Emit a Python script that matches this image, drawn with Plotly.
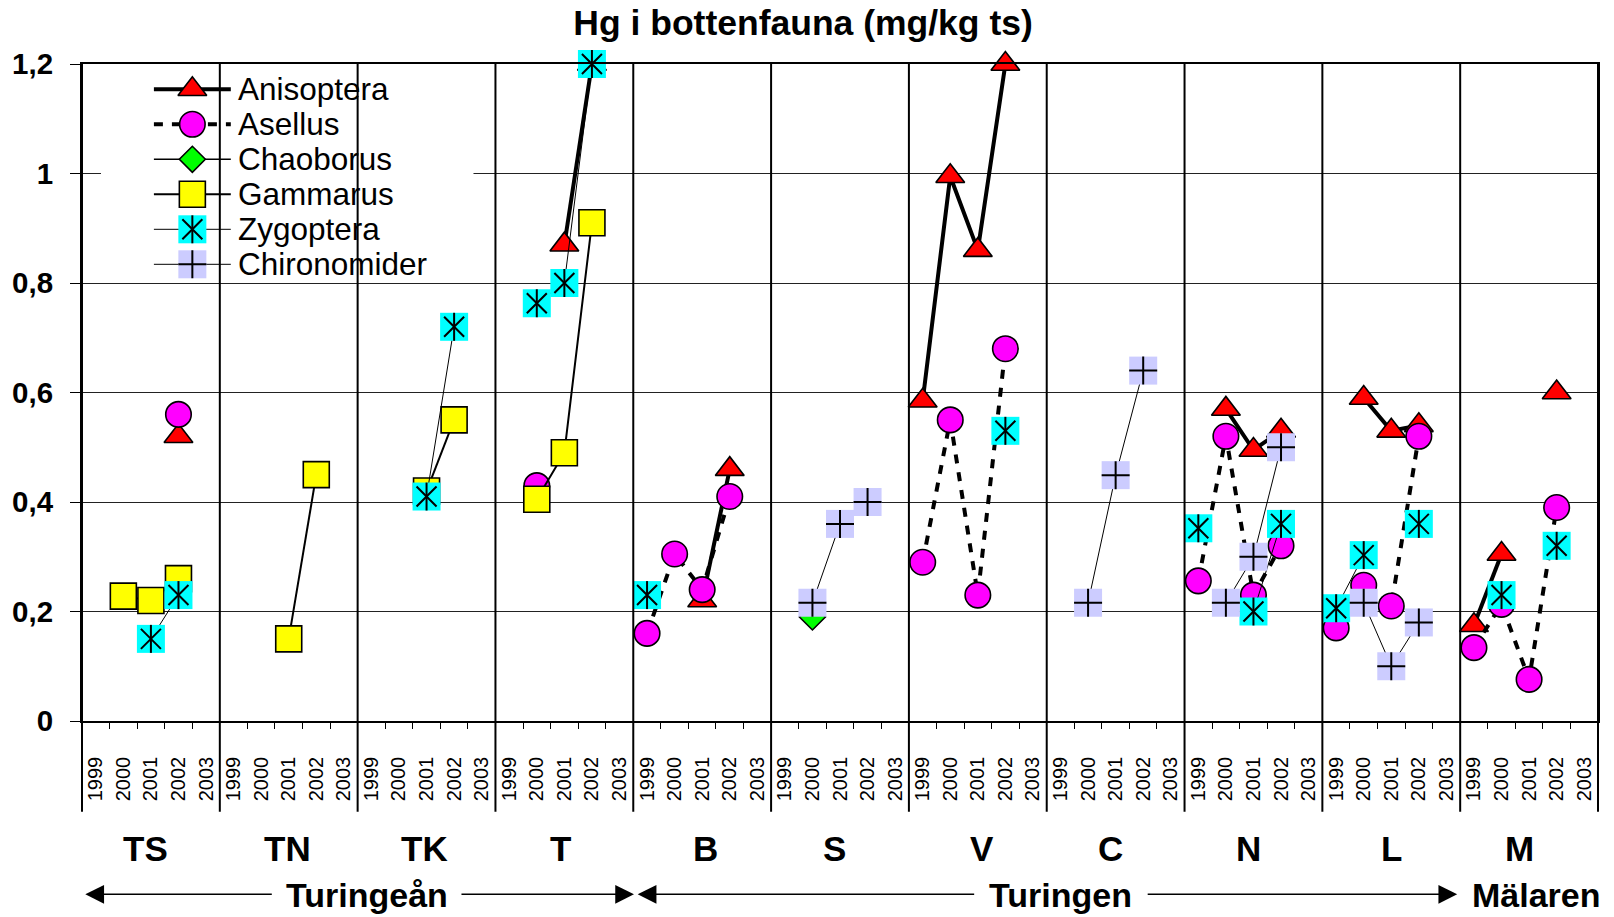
import plotly.graph_objects as go

# ---------------- data ----------------
SITES = ["TS", "TN", "TK", "T", "B", "S", "V", "C", "N", "L", "M"]
YEARS = ["1999", "2000", "2001", "2002", "2003"]
REGIONS = ["Turingeån", "Turingen", "Mälaren"]
TITLE = "Hg i bottenfauna (mg/kg ts)"
Y_TICKS = [0, 0.2, 0.4, 0.6, 0.8, 1.0, 1.2]
Y_TICKTEXT = ["0", "0,2", "0,4", "0,6", "0,8", "1", "1,2"]

_ = None
anisoptera = {
    "TS": [_, _, _, 0.52, _],
    "T": [_, _, 0.87, 1.2, _],
    "B": [_, _, 0.22, 0.46, _],
    "V": [0.585, 0.995, 0.86, 1.2, _],
    "N": [_, 0.57, 0.495, 0.53, _],
    "L": [_, 0.59, 0.53, 0.54, _],
    "M": [0.175, 0.305, _, 0.60, _],
}
asellus = {
    "TS": [_, _, _, 0.56, _],
    "T": [_, 0.43, _, _, _],
    "B": [0.16, 0.305, 0.24, 0.41, _],
    "V": [0.29, 0.55, 0.23, 0.68, _],
    "N": [0.256, 0.52, 0.23, 0.32, _],
    "L": [0.17, 0.248, 0.21, 0.52, _],
    "M": [0.134, 0.213, 0.076, 0.39, _],
}
chaoborus = {
    "S": [_, 0.19, _, _, _],
}
gammarus = {
    "TS": [_, 0.228, 0.22, 0.26, _],
    "TN": [_, _, 0.15, 0.45, _],
    "TK": [_, _, 0.42, 0.55, _],
    "T": [_, 0.405, 0.49, 0.91, _],
}
zygoptera = {
    "TS": [_, _, 0.15, 0.23, _],
    "TK": [_, _, 0.41, 0.72, _],
    "T": [_, 0.763, 0.80, 1.2, _],
    "B": [0.23, _, _, _, _],
    "V": [_, _, _, 0.53, _],
    "N": [0.352, _, 0.20, 0.36, _],
    "L": [0.206, 0.303, _, 0.36, _],
    "M": [_, 0.23, _, 0.32, _],
}
chironomider = {
    "S": [_, 0.216, 0.36, 0.40, _],
    "C": [_, 0.216, 0.449, 0.64, _],
    "N": [_, 0.216, 0.30, 0.50, _],
    "L": [_, 0.216, 0.10, 0.18, _],
}

SPECIES = [
    ("Anisoptera", anisoptera),
    ("Asellus", asellus),
    ("Chaoborus", chaoborus),
    ("Gammarus", gammarus),
    ("Zygoptera", zygoptera),
    ("Chironomider", chironomider),
]

# ---------------- styles ----------------
FONT = "Liberation Sans, Arial, sans-serif"
BLK = "black"
STYLE = {
    "Anisoptera": dict(line=dict(color=BLK, width=4),
                       layers=[dict(symbol="triangle-up", size=25, color="#FF0000",
                                    line=dict(color=BLK, width=1.6))]),
    "Asellus": dict(line=dict(color=BLK, width=4, dash="9px,9px"),
                    layers=[dict(symbol="circle", size=25.5, color="#FF00FF",
                                 line=dict(color=BLK, width=1.6))]),
    "Chaoborus": dict(line=dict(color=BLK, width=1.5),
                      layers=[dict(symbol="diamond", size=20, color="#00FF00",
                                   line=dict(color=BLK, width=1.6))]),
    "Gammarus": dict(line=dict(color=BLK, width=2),
                     layers=[dict(symbol="square", size=26, color="#FFFF00",
                                  line=dict(color=BLK, width=1.6))]),
    "Zygoptera": dict(line=dict(color=BLK, width=1),
                      layers=[dict(symbol="square", size=28, color="#00FFFF",
                                   line=dict(width=0)),
                              dict(symbol="x-thin-open", size=20, color=BLK,
                                   line=dict(color=BLK, width=2)),
                              dict(symbol="line-ns-open", size=20, color=BLK,
                                   line=dict(color=BLK, width=2))]),
    "Chironomider": dict(line=dict(color=BLK, width=1),
                         layers=[dict(symbol="square", size=28, color="#CCCCFF",
                                      line=dict(width=0)),
                                 dict(symbol="cross-thin-open", size=20, color=BLK,
                                      line=dict(color=BLK, width=2))]),
}

NY = len(YEARS)
NCAT = len(SITES) * NY


def flatten(series):
    xs, ys = [], []
    for g, site in enumerate(SITES):
        vals = series.get(site, [None] * NY)
        for k, v in enumerate(vals):
            xs.append(g * NY + k)
            ys.append(v)
        xs.append(g * NY + NY - 0.5)
        ys.append(None)  # break lines between sites
    return xs, ys


def add_species(fig, name, xs, ys, xa="x", ya="y"):
    st = STYLE[name]
    first = st["layers"][0]
    fig.add_trace(go.Scatter(x=xs, y=ys, mode="lines+markers", name=name,
                             line=st["line"], marker=first, connectgaps=False,
                             cliponaxis=False, xaxis=xa, yaxis=ya, hoverinfo="skip"))
    for lay in st["layers"][1:]:
        fig.add_trace(go.Scatter(x=xs, y=ys, mode="markers", marker=lay,
                                 cliponaxis=False, xaxis=xa, yaxis=ya,
                                 hoverinfo="skip", showlegend=False))


fig = go.Figure()
for name, series in SPECIES:
    xs, ys = flatten(series)
    add_species(fig, name, xs, ys)

# ---------------- custom legend (inset subplot) ----------------
LEG_W, LEG_H = 373, 212
LEG_ROW0, LEG_DY = 21.3, 35
LEG_LINE = (53, 130)
LEG_MARK = 91.5
LEG_TEXT = 135
for r, (name, _s) in enumerate(SPECIES):
    yr = LEG_ROW0 + r * LEG_DY
    st = STYLE[name]
    fig.add_trace(go.Scatter(x=list(LEG_LINE), y=[yr, yr], mode="lines", line=st["line"],
                             xaxis="x2", yaxis="y2", hoverinfo="skip", cliponaxis=False))
    for lay in st["layers"]:
        fig.add_trace(go.Scatter(x=[LEG_MARK], y=[yr], mode="markers", marker=lay,
                                 xaxis="x2", yaxis="y2", hoverinfo="skip", cliponaxis=False))
    fig.add_annotation(x=LEG_TEXT, y=yr, xref="x2", yref="y2", text=name,
                       showarrow=False, xanchor="left", yanchor="middle",
                       font=dict(family=FONT, size=31.5, color=BLK))

# ---------------- layout ----------------
L, R, T, B = 80, 16, 64, 196
W, H = 1614, 917
PH = H - T - B
PW = W - L - R

fig.update_layout(
    width=W, height=H,
    margin=dict(l=L, r=R, t=T, b=B),
    paper_bgcolor="white", plot_bgcolor="white",
    showlegend=False,
    font=dict(family=FONT, color=BLK),
    title=dict(text=TITLE, x=(802 - L) / PW, xref="paper", xanchor="center",
               y=1 - 22.6 / H, yref="container", yanchor="middle",
               font=dict(family=FONT, size=35.5, weight="bold", color=BLK)),
    xaxis=dict(range=[-0.5, NCAT - 0.5], tickmode="array",
               tickvals=list(range(NCAT)), ticktext=YEARS * len(SITES),
               tickangle=-90, tickfont=dict(family=FONT, size=20, color=BLK),
               ticks="", ticklabelstandoff=26,
               minor=dict(tickmode="array", tickvals=[k - 0.5 for k in range(1, NCAT)],
                          ticks="outside", ticklen=6, tickwidth=1, tickcolor=BLK,
                          showgrid=False),
               showgrid=False, zeroline=False,
               showline=True, linecolor=BLK, linewidth=1.5, mirror=True),
    yaxis=dict(range=[0, 1.2], tickmode="array", tickvals=Y_TICKS, ticktext=Y_TICKTEXT,
               tickfont=dict(family=FONT, size=29.5, weight="bold", color=BLK),
               ticks="outside", ticklen=10, tickwidth=1.2, tickcolor=BLK,
               ticklabelstandoff=11,
               showgrid=True, gridcolor="#222222", gridwidth=1, zeroline=False,
               showline=True, linecolor=BLK, linewidth=2, mirror=True),
    xaxis2=dict(domain=[(99 - L) / PW, (99 + LEG_W - L) / PW], range=[0, LEG_W],
                visible=False, anchor="y2", fixedrange=True),
    yaxis2=dict(domain=[(H - B - 68 - LEG_H) / PH, (H - B - 68) / PH], range=[LEG_H, 0],
                visible=False, anchor="x2", fixedrange=True),
)

# group separators (extend below the axis into the label area)
SEP_BOTTOM = -(811.7 - (H - B)) / PH
for g in range(len(SITES) + 1):
    fig.add_shape(type="line", xref="paper", yref="paper",
                  x0=g / len(SITES), x1=g / len(SITES), y0=SEP_BOTTOM, y1=1,
                  line=dict(color=BLK, width=2), layer="above")

# site labels (small per-label pixel nudges as in the original)
SITE_Y = -(848 - (H - B)) / PH
SITE_DX = [-5, -1, -2, -4, 3, -6, 4, -5, -5, 0, -10]
for g, site in enumerate(SITES):
    fig.add_annotation(x=g * NY + (NY - 1) / 2, y=SITE_Y, xref="x", yref="paper",
                       text=site, showarrow=False, xanchor="center", yanchor="middle",
                       xshift=SITE_DX[g],
                       font=dict(family=FONT, size=35, weight="bold", color=BLK))

# region labels with arrows
REG_Y = -(895 - (H - B)) / PH
REG_X = [365, 1060, 1536]
for name, px in zip(REGIONS, REG_X):
    fig.add_annotation(x=(px - L) / PW, y=REG_Y, xref="paper", yref="paper",
                       text=name, showarrow=False, xanchor="center", yanchor="middle",
                       font=dict(family=FONT, size=34, weight="bold", color=BLK))

ARROWS = [(83.3, 188), (632.7, -174), (636.4, 338), (1457, -311)]
ARROW_Y = -(894.3 - (H - B)) / PH
for head, ax in ARROWS:
    fig.add_annotation(x=(head - L) / PW, y=ARROW_Y, xref="paper", yref="paper",
                       ax=ax, ay=0, axref="pixel", ayref="pixel", text="",
                       showarrow=True, arrowhead=2, arrowsize=2.5, arrowwidth=1.5,
                       arrowcolor=BLK, standoff=0, startstandoff=0)

fig.write_html(
    "out.html",
    config={"displayModeBar": False},
    post_script="document.body.style.margin='0';document.body.style.overflow='hidden';",
)
